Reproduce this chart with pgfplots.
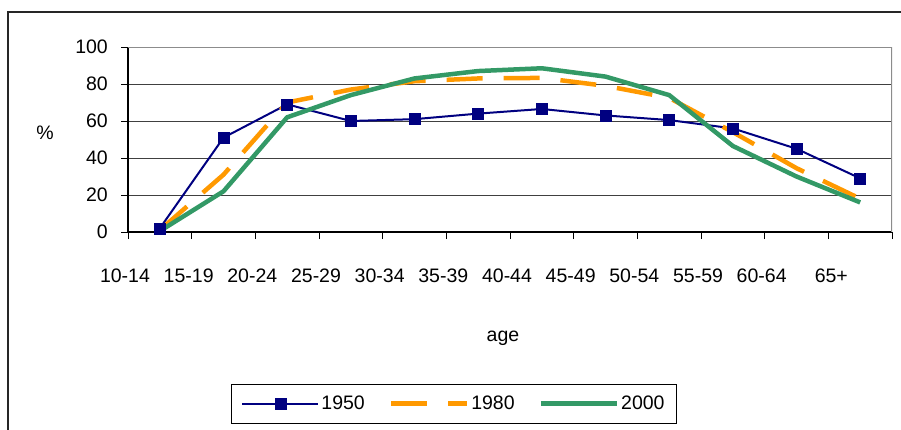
\documentclass[border=0pt]{standalone}
\usepackage{fontspec}
\setmainfont{Liberation Sans}
\usepackage{pgfplots}
\pgfplotsset{compat=1.18}
\definecolor{navy}{HTML}{000080}
\definecolor{xlorange}{HTML}{FF9900}
\definecolor{xlgreen}{HTML}{339966}
\newcommand\chartfont{\fontsize{19.5}{23}\selectfont}

\begin{document}
\begin{tikzpicture}[x=1pt,y=1pt]
\begin{axis}[
  at={(128pt,197pt)}, anchor=south west,
  width=764pt, height=185pt, scale only axis,
  xmin=0, xmax=12, ymin=0, ymax=100,
  axis x line*=bottom, axis y line*=left,
  axis line style={black, line width=1.2pt, -},
  xtick={0,...,12},
  xticklabels={10-14,15-19,20-24,25-29,30-34,35-39,40-44,45-49,50-54,55-59,60-64,\raisebox{6pt}{\hspace{12pt}65+},{}},
  ytick={0,20,...,100},
  tick align=outside, major tick length=7pt,
  tick style={black, line width=1pt},
  ymajorgrids, major grid style={black!75, line width=0.9pt},
  /pgf/number format/assume math mode=true,
  tick label style={font=\chartfont},
  yticklabel style={inner sep=0pt, xshift=-13pt},
  xticklabel style={inner sep=0pt, yshift=-30pt, xshift=-3pt},
  legend columns=3,
  legend style={at={(0.4267,-0.928)}, anchor=center, draw=black, line width=0.9pt,
    font=\chartfont, inner xsep=10pt, inner ysep=10pt,
    /tikz/every even column/.append style={column sep=22pt}},
  legend image code/.code={\draw[mark repeat=2,mark phase=2] plot coordinates {(0pt,0pt)(38pt,0pt)(76pt,0pt)};},
]
\addplot[navy, line width=2pt, mark=square*, mark size=5.5pt,
  mark options={solid, fill=navy, draw=navy, line width=0.5pt}] coordinates {
  (0.5,2)(1.5,51)(2.5,69)(3.5,60)(4.5,61)(5.5,64)(6.5,66.5)(7.5,63)(8.5,60.5)(9.5,56)(10.5,45)(11.5,29)
};
\addlegendentry{1950}
\addplot[xlorange, line width=4.5pt, dash pattern=on 36pt off 21pt] coordinates {
  (0.5,1)(1.5,31)(2.5,70)(3.5,77)(4.5,81.5)(5.5,83)(6.5,83.3)(7.5,79)(8.5,72.5)(9.5,54)(10.5,34.5)(11.5,18)
};
\addlegendentry{1980}
\addplot[xlgreen, line width=4.5pt] coordinates {
  (0.5,0.5)(1.5,22)(2.5,62)(3.5,74)(4.5,83)(5.5,87)(6.5,88.5)(7.5,84)(8.5,74)(9.5,46.5)(10.5,30)(11.5,16)
};
\addlegendentry{2000}
\draw[black!45, line width=2pt] (rel axis cs:0,1) -- (rel axis cs:1,1) -- (rel axis cs:1,0);
\end{axis}
\node[font=\chartfont] at (45,296) {\%};
\node[font=\chartfont] at (503,91) {age};
\draw[black!85, line width=1.5pt] (8,-5) -- (8,417) -- (906,417);
\pgfresetboundingbox
\path[use as bounding box] (0,0) rectangle (901,429);
\end{tikzpicture}
\end{document}
